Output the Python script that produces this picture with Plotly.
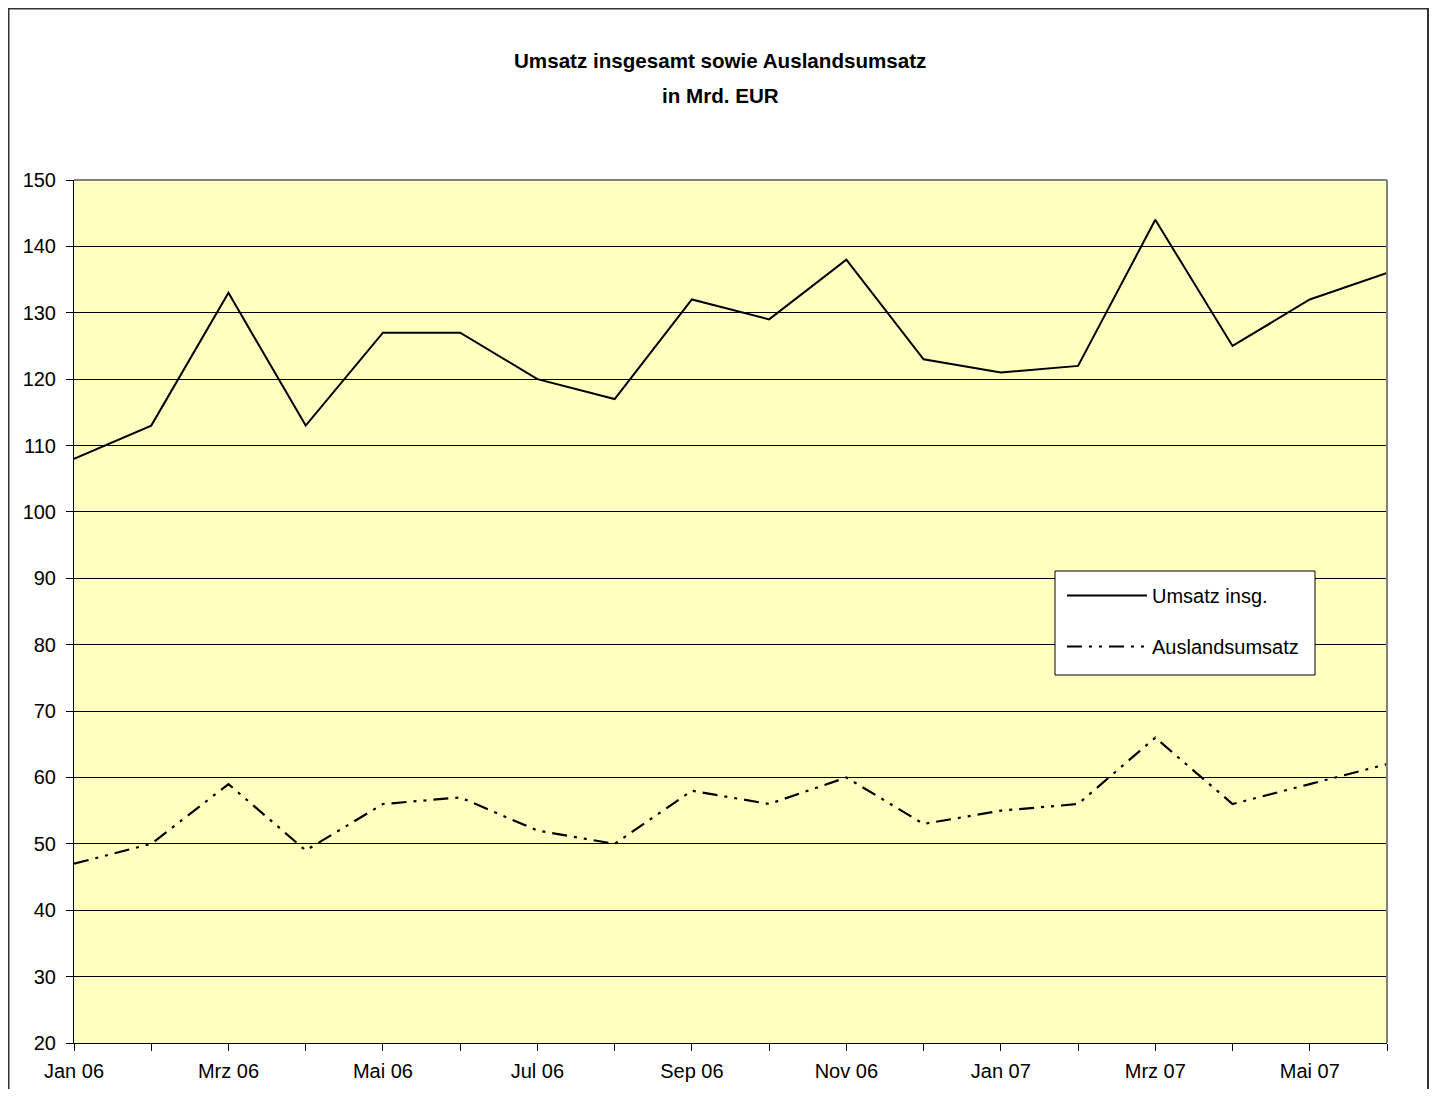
import plotly.graph_objects as go

months = ["Jan 06", "Feb 06", "Mrz 06", "Apr 06", "Mai 06", "Jun 06", "Jul 06", "Aug 06",
          "Sep 06", "Okt 06", "Nov 06", "Dez 06", "Jan 07", "Feb 07", "Mrz 07", "Apr 07",
          "Mai 07", "Jun 07"]
umsatz = [108, 113, 133, 113, 127, 127, 120, 117, 132, 129, 138, 123, 121, 122, 144, 125, 132, 136]
ausland = [47, 50, 59, 49, 56, 57, 52, 50, 58, 56, 60, 53, 55, 56, 66, 56, 59, 62]
tick_labels = [m if i % 2 == 0 else "" for i, m in enumerate(months)]
y_ticks = [20, 30, 40, 50, 60, 70, 80, 90, 100, 110, 120, 130, 140, 150]

FONT = "Liberation Sans, Arial, sans-serif"
OFF = 8  # page body margin
W, H = 1421, 1081
# target plot area in page pixels: x 74..1387, y 180..1043
L = 74 - OFF
T = 180 - OFF
R = OFF + W - 1387
B = OFF + H - 1043
pw, ph = W - L - R, H - T - B

def px_x(x):  # page x -> paper x
    return (x - OFF - L) / pw

def px_y(y):  # page y -> paper y
    return (H - B - (y - OFF)) / ph

fig = go.Figure()
fig.add_trace(go.Scatter(x=months, y=umsatz, mode="lines", name="Umsatz insg.",
                         legendgroup="a", line=dict(color="black", width=2)))
fig.add_trace(go.Scatter(x=months, y=ausland, mode="lines", name="Auslandsumsatz",
                         legendgroup="b",
                         line=dict(color="black", width=2.2, dash="15px,7px,3px,7px,3px,7px")))

fig.update_layout(
    width=W, height=H,
    margin=dict(l=L, r=R, t=T, b=B, autoexpand=False),
    paper_bgcolor="white",
    plot_bgcolor="#FFFFC0",
    font=dict(family=FONT, size=20, color="black"),
    showlegend=True,
    legend=dict(
        x=px_x(1062), y=px_y(576), xanchor="left", yanchor="top",
        bgcolor="rgba(0,0,0,0)", borderwidth=0,
        font=dict(family=FONT, size=20, color="black"),
        tracegroupgap=22, itemwidth=80,
    ),
    xaxis=dict(
        type="category", categoryorder="array", categoryarray=months,
        range=[0, len(months) - 1], automargin=False,
        tickmode="array", tickvals=months, ticktext=tick_labels,
        ticks="outside", ticklen=7, tickcolor="black", tickwidth=1,
        ticklabelstandoff=3,
        showline=True, linecolor="black", linewidth=1,
        showgrid=False, zeroline=False,
        tickfont=dict(family=FONT, size=20),
    ),
    yaxis=dict(
        range=[20, 150], tickmode="array", tickvals=y_ticks, automargin=False,
        ticks="outside", ticklen=7, tickcolor="black", tickwidth=1,
        ticklabelstandoff=6,
        showline=True, linecolor="black", linewidth=1,
        showgrid=True, gridcolor="black", gridwidth=1,
        zeroline=False,
        tickfont=dict(family=FONT, size=20),
    ),
    shapes=[
        dict(type="line", xref="paper", yref="paper", x0=0, x1=1, y0=1, y1=1,
             line=dict(color="#808080", width=2)),
        dict(type="line", xref="paper", yref="paper", x0=1, x1=1, y0=0, y1=1,
             line=dict(color="#808080", width=2)),
        # legend box
        dict(type="rect", xref="paper", yref="paper",
             x0=px_x(1055), x1=px_x(1315), y0=px_y(675), y1=px_y(571),
             fillcolor="white", line=dict(color="black", width=1), layer="above"),
        # outer chart frame
        dict(type="rect", xref="paper", yref="paper",
             x0=px_x(OFF + 0.5), x1=px_x(OFF + W - 1), y0=px_y(1120), y1=px_y(OFF + 0.5),
             line=dict(color="#333333", width=2), layer="below"),
    ],
    annotations=[
        dict(text="<b>Umsatz insgesamt sowie Auslandsumsatz</b>", xref="paper", yref="paper",
             x=px_x(720), y=px_y(61), xanchor="center", yanchor="middle", showarrow=False,
             font=dict(family=FONT, size=20.6, color="black")),
        dict(text="<b>in Mrd. EUR</b>", xref="paper", yref="paper",
             x=px_x(720), y=px_y(95), xanchor="center", yanchor="middle", showarrow=False,
             font=dict(family=FONT, size=20.6, color="black")),
    ],
)

fig.write_html("out.html")
